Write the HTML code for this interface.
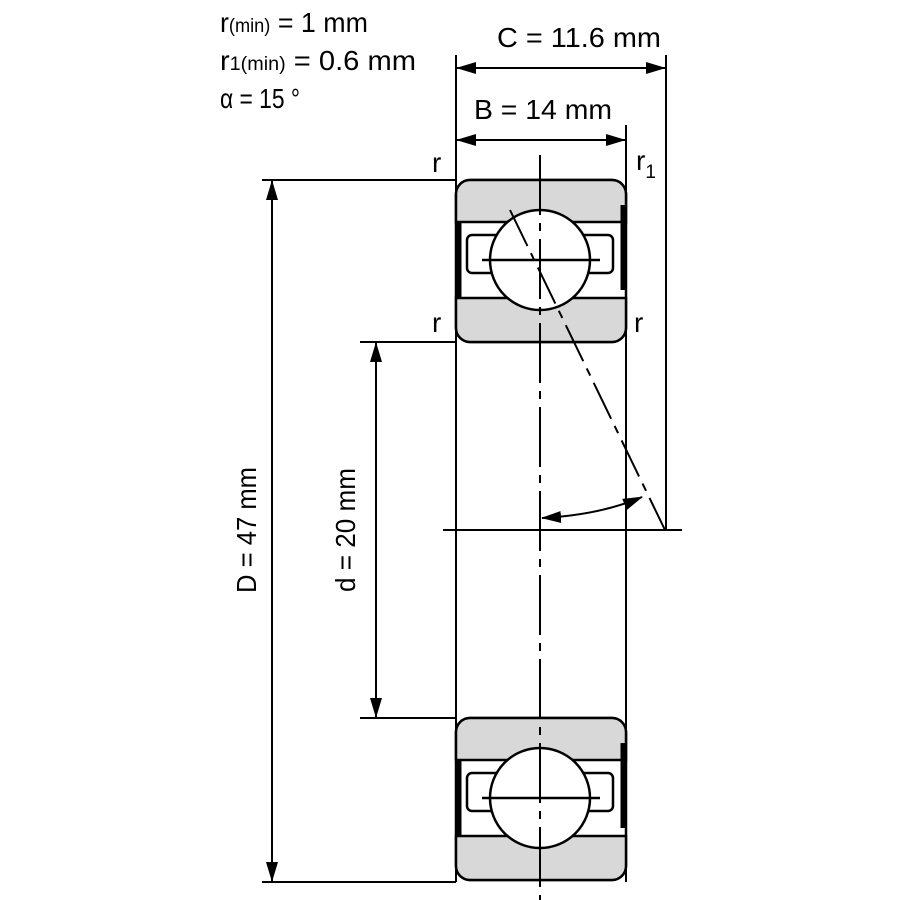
<!DOCTYPE html>
<html><head><style>body{margin:0;background:#fff}svg{display:block}text{font-family:"Liberation Sans",sans-serif;fill:#000}</style></head><body>
<svg width="900" height="900" viewBox="0 0 900 900">
<defs>
<marker id="a" markerWidth="20" markerHeight="12" refX="19" refY="6" orient="auto-start-reverse" markerUnits="userSpaceOnUse"><path d="M0,0 L20,6 L0,12z"/></marker>
</defs>
<g stroke="#000" stroke-width="2" fill="none">
<line x1="456" y1="55" x2="456" y2="882"/>
<line x1="666" y1="55" x2="666" y2="530"/>
<line x1="626" y1="125" x2="626" y2="882"/>
<line x1="262" y1="180" x2="456" y2="180"/>
<line x1="262" y1="882" x2="456" y2="882"/>
<line x1="360" y1="342" x2="456" y2="342"/>
<line x1="360" y1="718" x2="456" y2="718"/>
<line x1="443" y1="530" x2="682" y2="530"/>
<line x1="457" y1="68" x2="665" y2="68" marker-end="url(#a)" marker-start="url(#a)"/>
<line x1="457" y1="140" x2="625" y2="140" marker-end="url(#a)" marker-start="url(#a)"/>
<line x1="272" y1="181" x2="272" y2="881" marker-end="url(#a)" marker-start="url(#a)"/>
<line x1="376" y1="343" x2="376" y2="717" marker-end="url(#a)" marker-start="url(#a)"/>
</g>
<path d="M542,518 Q600,515 642,497" stroke="#000" stroke-width="2" fill="none" marker-start="url(#a)" marker-end="url(#a)"/>
<g id="b" stroke="#000" stroke-width="2.5">
<rect x="456" y="180" width="170" height="162" rx="14" fill="#fff"/>
<path d="M470,180 H612 A14,14 0 0 1 626,194 V222 H456 V194 A14,14 0 0 1 470,180z" fill="#d8d8d8"/>
<path d="M456,298 H626 V328 A14,14 0 0 1 612,342 H470 A14,14 0 0 1 456,328z" fill="#d8d8d8"/>
<rect x="467" y="235" width="146" height="38" rx="5" fill="#fff"/>
<circle cx="540" cy="260" r="50" fill="#fff"/>
<line x1="482" y1="260" x2="600" y2="260"/>
<line x1="459" y1="222" x2="459" y2="298" stroke-width="5"/>
<line x1="623" y1="205" x2="623" y2="290" stroke-width="5"/>
</g>
<use href="#b" transform="translate(0,538)"/>
<line x1="540" y1="155" x2="540" y2="900" stroke="#000" stroke-width="2" stroke-dasharray="60,8,8,8"/>
<line x1="510" y1="210" x2="665" y2="530" stroke="#000" stroke-width="2" stroke-dasharray="40,8,8,8"/>
<text x="220" y="32" font-size="28" textLength="148" lengthAdjust="spacingAndGlyphs">r<tspan font-size="19">(min)</tspan> = 1 mm</text>
<text x="220" y="70" font-size="28" textLength="196" lengthAdjust="spacingAndGlyphs">r<tspan font-size="19">1(min)</tspan> = 0.6 mm</text>
<text x="220" y="108" font-size="28" textLength="80" lengthAdjust="spacingAndGlyphs">α = 15 °</text>
<text x="497" y="47" font-size="28" textLength="164" lengthAdjust="spacingAndGlyphs">C = 11.6 mm</text>
<text x="474" y="119" font-size="28" textLength="138" lengthAdjust="spacingAndGlyphs">B = 14 mm</text>
<text x="432" y="172" font-size="28">r</text>
<text x="636" y="170" font-size="28">r<tspan font-size="19" dy="8">1</tspan></text>
<text x="432" y="332" font-size="28">r</text>
<text x="634" y="332" font-size="28">r</text>
<text transform="translate(256,530) rotate(-90)" text-anchor="middle" font-size="28" textLength="126" lengthAdjust="spacingAndGlyphs">D = 47 mm</text>
<text transform="translate(355,530) rotate(-90)" text-anchor="middle" font-size="28" textLength="124" lengthAdjust="spacingAndGlyphs">d = 20 mm</text>
</svg>
</body></html>
